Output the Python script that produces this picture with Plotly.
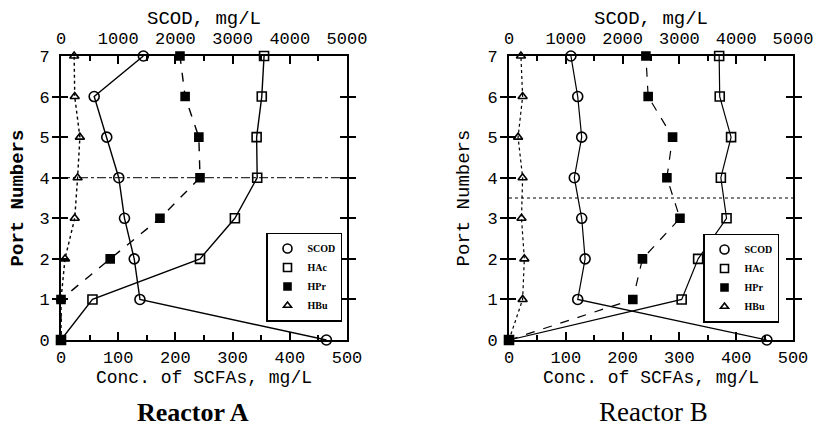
import plotly.graph_objects as go

# ---------------- data ----------------
ports = [0, 1, 2, 3, 4, 5, 6, 7]

# Reactor A
a_scod = [4640, 1380, 1280, 1110, 1010, 800, 580, 1440]   # mg/L (top axis)
a_hac = [0, 55, 243, 304, 343, 342, 351, 355]             # mg/L (bottom axis)
a_hpr = [0, 0, 86, 173, 243, 241, 217, 208]
a_hbu = [0, 0, 7, 24, 29, 33, 24, 23]
a_ref_port = 4

# Reactor B
b_scod = [4540, 1210, 1340, 1280, 1150, 1280, 1210, 1090]
b_hac = [0, 304, 333, 383, 373, 391, 371, 370]
b_hpr = [0, 218, 235, 301, 278, 288, 245, 241]
b_hbu = [0, 24, 27, 22, 24, 16, 24, 21]
b_ref_port = 3.5

series_names = ["SCOD", "HAc", "HPr", "HBu"]
scfa_ticks = [0, 100, 200, 300, 400, 500]
scod_ticks = [0, 1000, 2000, 3000, 4000, 5000]
port_ticks = [0, 1, 2, 3, 4, 5, 6, 7]

W, H = 818, 426
fig = go.Figure()

styles = {
    "SCOD": dict(symbol="circle-open", size=10, dash="solid"),
    "HAc": dict(symbol="square-open", size=9, dash="solid"),
    "HPr": dict(symbol="square", size=8, dash="dash"),
    "HBu": dict(symbol="triangle-up-open", size=8, dash="dot"),
}


def add_reactor(scod, hac, hpr, hbu, xb, xt, ya, legend, lw):
    data = {"SCOD": (scod, xt), "HAc": (hac, xb), "HPr": (hpr, xb), "HBu": (hbu, xb)}
    for name in ["HBu", "HPr", "HAc", "SCOD"]:
        vals, xa = data[name]
        st = styles[name]
        fig.add_trace(go.Scatter(
            x=vals, y=ports, xaxis=xa, yaxis=ya, mode="lines+markers",
            line=dict(color="black", width=lw, dash=st["dash"]),
            marker=dict(symbol=st["symbol"], size=st["size"], color="black",
                        line=dict(color="black", width=1.6)),
            cliponaxis=False, showlegend=False, name=name))
    for name in series_names:
        st = styles[name]
        fig.add_trace(go.Scatter(
            x=[None], y=[None], xaxis=xb, yaxis=ya, mode="markers", name="<b>%s</b>" % name,
            marker=dict(symbol=st["symbol"], size=st["size"] - 1, color="black",
                        line=dict(color="black", width=1.6)),
            legend=legend, showlegend=True))


add_reactor(a_scod, a_hac, a_hpr, a_hbu, "x", "x2", "y", "legend", 1.4)
add_reactor(b_scod, b_hac, b_hpr, b_hbu, "x3", "x4", "y2", "legend2", 1.2)

yd = [(H - 340) / H, (H - 56) / H]
dA = [61 / W, 347 / W]
dB = [509 / W, 793 / W]

tick_a = dict(family="Liberation Mono", size=17, color="black")
conc_font = dict(family="Liberation Mono", size=18, color="black")
scod_font = dict(family="Liberation Mono", size=19, color="black")
port_font = dict(family="Liberation Mono", size=19, color="black")


def xbottom(domain, anchor, lw):
    return dict(domain=domain, anchor=anchor, range=[0, 500], tickvals=scfa_ticks,
                ticks="inside", ticklen=8, tickwidth=lw, tickcolor="black",
                minor=dict(ticks="inside", ticklen=5, tickcolor="black", dtick=50, tickwidth=lw),
                showline=True, linecolor="black", linewidth=lw, showgrid=False, zeroline=False,
                ticklabelstandoff=1,
                tickfont=tick_a, title=dict(text="Conc. of SCFAs, mg/L", font=conc_font, standoff=0))


def xtop(domain, anchor, overlay, lw):
    return dict(domain=domain, anchor=anchor, overlaying=overlay, side="top", range=[0, 5000],
                tickvals=scod_ticks, ticks="inside", ticklen=8, tickwidth=lw, tickcolor="black",
                minor=dict(ticks="inside", ticklen=5, tickcolor="black", dtick=500, tickwidth=lw),
                showline=True, linecolor="black", linewidth=lw, showgrid=False, zeroline=False,
                ticklabelstandoff=3,
                tickfont=tick_a, title=dict(text="SCOD, mg/L", font=scod_font, standoff=0))


def yaxis(anchor, title, lw, standoff):
    return dict(domain=yd, anchor=anchor, range=[0, 7], tickvals=port_ticks,
                ticks="inside", ticklen=7, tickwidth=lw, tickcolor="black", mirror="allticks",
                showline=True, linecolor="black", linewidth=lw, showgrid=False, zeroline=False,
                ticklabelstandoff=6,
                tickfont=tick_a, title=dict(text=title, font=port_font, standoff=standoff))


legend_common = dict(xanchor="center", yanchor="middle",
                     bgcolor="white", bordercolor="black", borderwidth=1.5,
                     font=dict(family="Liberation Serif", size=10, color="black"),
                     itemwidth=30, tracegroupgap=0)

fig.update_layout(
    width=W, height=H, margin=dict(l=0, r=0, t=0, b=0, autoexpand=False),
    paper_bgcolor="white", plot_bgcolor="white",
    xaxis=xbottom(dA, "y", 2),
    xaxis2=xtop(dA, "y", "x", 2),
    yaxis=yaxis("x", "<b>Port Numbers</b>", 2, 11),
    xaxis3=xbottom(dB, "y2", 1.6),
    xaxis4=xtop(dB, "y2", "x3", 1.6),
    yaxis2=yaxis("x3", "Port Numbers", 1.6, 13),
    legend=dict(x=304 / W, y=1 - 277 / H, **legend_common),
    legend2=dict(x=741 / W, y=1 - 278 / H, **legend_common),
    shapes=[
        dict(type="line", xref="x domain", yref="y", x0=0, x1=1, y0=a_ref_port, y1=a_ref_port,
             line=dict(color="black", width=1, dash="dashdot")),
        dict(type="line", xref="x3 domain", yref="y2", x0=0, x1=1, y0=b_ref_port, y1=b_ref_port,
             line=dict(color="black", width=1, dash="3px,3px")),
    ],
    annotations=[
        dict(text="<b>Reactor A</b>", x=193 / W, y=1 - 412 / H, xref="paper", yref="paper",
             xanchor="center", yanchor="middle", showarrow=False,
             font=dict(family="Liberation Serif", size=26, color="black")),
        dict(text="Reactor B", x=653 / W, y=1 - 412 / H, xref="paper", yref="paper",
             xanchor="center", yanchor="middle", showarrow=False,
             font=dict(family="Liberation Serif", size=27, color="black")),
    ],
)

fig.write_html("out.html", config={"displayModeBar": False},
               post_script="document.body.style.margin='0';document.body.style.overflow='hidden';")
